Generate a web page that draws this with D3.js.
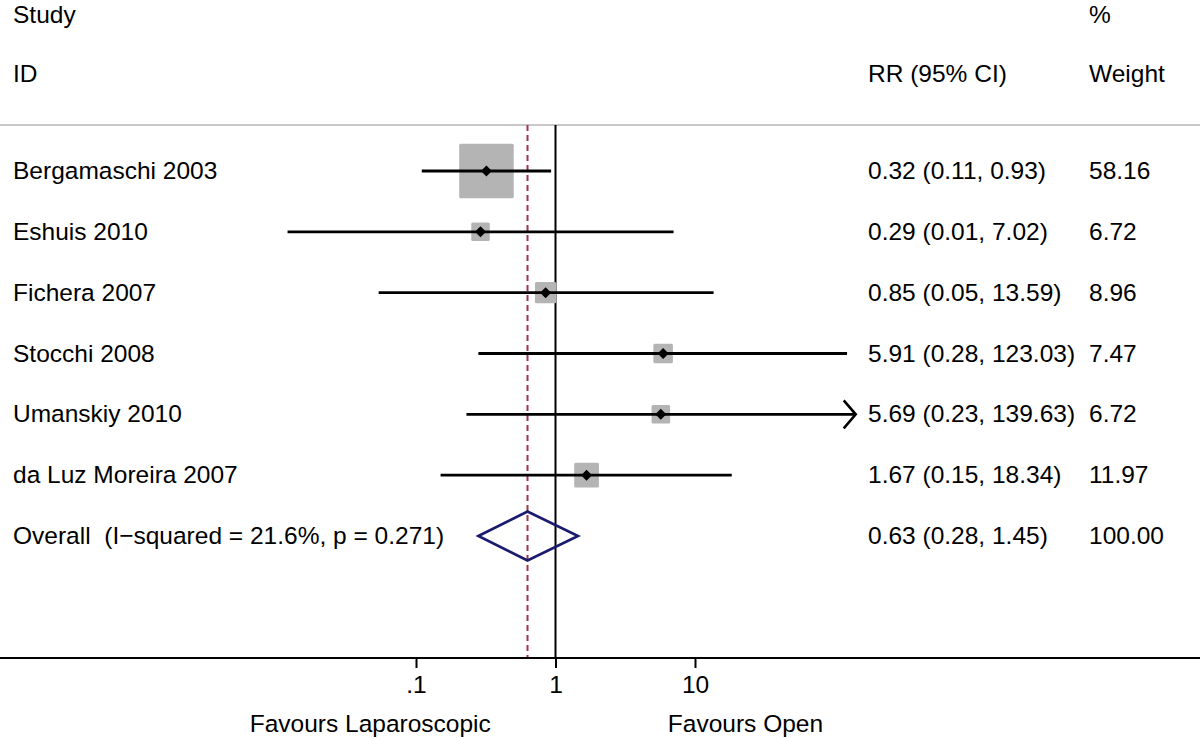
<!DOCTYPE html>
<html>
<head>
<meta charset="utf-8">
<script src="https://cdn.jsdelivr.net/npm/d3@7"></script>
<style>
  html, body { margin: 0; padding: 0; background: #fff; }
  svg { display: block; font-family: "Liberation Sans", Arial, Helvetica, sans-serif; }
</style>
</head>
<body>
<svg id="chart" width="1200" height="738"></svg>
<script>
// ---------- data ----------
const studies   = ["Bergamaschi 2003", "Eshuis 2010", "Fichera 2007", "Stocchi 2008", "Umanskiy 2010", "da Luz Moreira 2007"];
const rr        = [0.32, 0.29, 0.85, 5.91, 5.69, 1.67];
const lower     = [0.11, 0.012, 0.054, 0.28, 0.23, 0.15];
const upper     = [0.93, 7.02, 13.59, 123.03, 139.63, 18.34];
const weights   = [58.16, 6.72, 8.96, 7.47, 6.72, 11.97];
const rrLabels  = ["0.32 (0.11, 0.93)", "0.29 (0.01, 7.02)", "0.85 (0.05, 13.59)", "5.91 (0.28, 123.03)", "5.69 (0.23, 139.63)", "1.67 (0.15, 18.34)"];
const wLabels   = ["58.16", "6.72", "8.96", "7.47", "6.72", "11.97"];
const arrowRight = [false, false, false, false, true, false];

const overallLabel  = "Overall  (I\u2212squared = 21.6%, p = 0.271)";
const overallRR     = 0.63;
const overallLower  = 0.28;
const overallUpper  = 1.45;
const overallRRLabel = "0.63 (0.28, 1.45)";
const overallWLabel  = "100.00";

const tickValues = [0.1, 1, 10];
const tickLabels = [".1", "1", "10"];
const favourLeft = "Favours Laparoscopic";
const favourRight = "Favours Open";

// ---------- layout ----------
const svg = d3.select("#chart");
const W = 1200;
const fontSize = 24.5;
const x = d3.scaleLog().domain([0.1, 10]).range([416, 695]);
const rowNames = studies.concat(["__overall"]);
const y = d3.scalePoint().domain(rowNames).range([171, 536]);
const plotTop = 125, axisY = 658;
const colRR = 868, colW = 1089, colStudy = 13;
const boxK = 7.15;

// header
const hdr = svg.append("g").attr("font-size", fontSize).attr("fill", "#000");
hdr.append("text").attr("x", colStudy).attr("y", 23).text("Study");
hdr.append("text").attr("x", colStudy).attr("y", 82).text("ID");
hdr.append("text").attr("x", colRR).attr("y", 82).text("RR (95% CI)");
hdr.append("text").attr("x", colW).attr("y", 23).text("%");
hdr.append("text").attr("x", colW).attr("y", 82).text("Weight");

svg.append("line").attr("x1", 0).attr("x2", W).attr("y1", plotTop).attr("y2", plotTop)
  .attr("stroke", "#c8c8c8").attr("stroke-width", 2);

// null line
svg.append("line").attr("x1", x(1)).attr("x2", x(1)).attr("y1", plotTop).attr("y2", axisY)
  .attr("stroke", "#000").attr("stroke-width", 2);
// overall dashed line
svg.append("line").attr("x1", x(overallRR)).attr("x2", x(overallRR)).attr("y1", plotTop).attr("y2", axisY)
  .attr("stroke", "#a3334a").attr("stroke-width", 2).attr("stroke-dasharray", "6,4");

// boxes
const idx = d3.range(studies.length);
svg.append("g").selectAll("rect").data(idx).join("rect")
  .attr("x", i => x(rr[i]) - boxK * Math.sqrt(weights[i]) / 2)
  .attr("y", i => y(studies[i]) - boxK * Math.sqrt(weights[i]) / 2)
  .attr("width", i => boxK * Math.sqrt(weights[i]))
  .attr("height", i => boxK * Math.sqrt(weights[i]))
  .attr("rx", 1.5)
  .attr("fill", "#b4b4b4");

// CI lines
svg.append("g").selectAll("line").data(idx).join("line")
  .attr("x1", i => x(lower[i])).attr("x2", i => x(upper[i]))
  .attr("y1", i => y(studies[i])).attr("y2", i => y(studies[i]))
  .attr("stroke", "#000").attr("stroke-width", 2.8);

// arrows
svg.append("g").selectAll("path").data(idx.filter(i => arrowRight[i])).join("path")
  .attr("d", i => {
    const tx = x(upper[i]) + 1, ty = y(studies[i]);
    return `M${tx - 12},${ty - 14}L${tx},${ty}L${tx - 12},${ty + 14}`;
  })
  .attr("fill", "none").attr("stroke", "#000").attr("stroke-width", 2.6);

// point diamonds
svg.append("g").selectAll("path").data(idx).join("path")
  .attr("d", i => {
    const cx = x(rr[i]), cy = y(studies[i]), r = 5.5;
    return `M${cx},${cy - r}L${cx + r},${cy}L${cx},${cy + r}L${cx - r},${cy}Z`;
  })
  .attr("fill", "#000");

// overall diamond
const oy = y("__overall");
svg.append("path")
  .attr("d", `M${x(overallLower)},${oy}L${x(overallRR)},${oy - 24.5}L${x(overallUpper)},${oy}L${x(overallRR)},${oy + 24.5}Z`)
  .attr("fill", "none").attr("stroke", "#1a1a6e").attr("stroke-width", 2.6);

// row texts
const txt = svg.append("g").attr("font-size", fontSize).attr("fill", "#000");
txt.selectAll("text.s").data(idx).join("text").attr("class", "s")
  .attr("x", colStudy).attr("y", i => y(studies[i]) + 8).text(i => studies[i]);
txt.selectAll("text.r").data(idx).join("text").attr("class", "r")
  .attr("x", colRR).attr("y", i => y(studies[i]) + 8).text(i => rrLabels[i]);
txt.selectAll("text.w").data(idx).join("text").attr("class", "w")
  .attr("x", colW).attr("y", i => y(studies[i]) + 8).text(i => wLabels[i]);
txt.append("text").attr("x", colStudy).attr("y", oy + 8).attr("xml:space", "preserve")
  .style("white-space", "pre").text(overallLabel);
txt.append("text").attr("x", colRR).attr("y", oy + 8).text(overallRRLabel);
txt.append("text").attr("x", colW).attr("y", oy + 8).text(overallWLabel);

// axis
svg.append("line").attr("x1", 0).attr("x2", W).attr("y1", axisY).attr("y2", axisY)
  .attr("stroke", "#000").attr("stroke-width", 2);
const axis = d3.axisBottom(x).tickValues(tickValues)
  .tickFormat((d, i) => tickLabels[i]).tickSize(10).tickSizeOuter(0).tickPadding(8);
const ag = svg.append("g").attr("transform", `translate(0,${axisY})`).call(axis);
ag.select(".domain").remove();
ag.selectAll(".tick line").attr("stroke", "#000").attr("stroke-width", 2);
ag.selectAll(".tick text").attr("font-size", fontSize).attr("fill", "#000")
  .attr("font-family", "'Liberation Sans', Arial, sans-serif").attr("dy", null).attr("y", 35);

// favours labels
svg.append("text").attr("x", x(0.047)).attr("y", 732).attr("text-anchor", "middle")
  .attr("font-size", fontSize).text(favourLeft);
svg.append("text").attr("x", x(23)).attr("y", 732).attr("text-anchor", "middle")
  .attr("font-size", fontSize).text(favourRight);
</script>
</body>
</html>
